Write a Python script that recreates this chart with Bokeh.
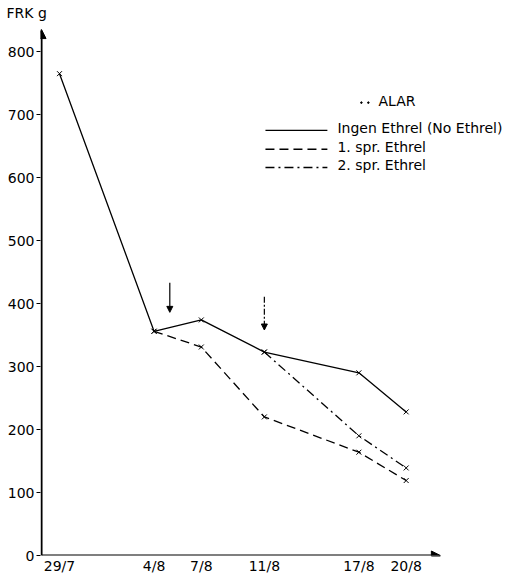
from bokeh.plotting import figure
from bokeh.models import Range1d, FixedTicker, Arrow, NormalHead
from bokeh.core.properties import value
from bokeh.embed import file_html
from bokeh.resources import INLINE

# ---- data ----
date_labels = ["29/7", "4/8", "7/8", "11/8", "17/8", "20/8"]
date_days = [0, 6, 9, 13, 19, 22]           # days after 29/7

ingen_days = [0, 6, 9, 13, 19, 22]
ingen_vals = [765, 356, 374, 323, 290, 228]

spr1_days = [6, 9, 13, 19, 22]
spr1_vals = [356, 331, 220, 164, 119]

spr2_days = [13, 19, 22]
spr2_vals = [323, 190, 139]

spray_days = [7.0, 13.0]
spray_top = [433, 411]
spray_bottom = [386, 358]

y_ticks = [0, 100, 200, 300, 400, 500, 600, 700, 800]

legend_title = "ALAR"
legend_labels = ["Ingen Ethrel (No Ethrel)", "1. spr. Ethrel", "2. spr. Ethrel"]
legend_dashes = ["solid", "9 5", "9 4 2 4"]
legend_rows = [675, 645, 616]

FONT = "DejaVu Sans"
TOP = 24  # title panel height in px (frame starts here)

p = figure(width=527, height=577, output_backend="svg", toolbar_location=None,
           x_range=Range1d(-1.206, 29.70), y_range=Range1d(0, (555 - TOP) / 0.6275),
           min_border_left=40, min_border_right=0, min_border_top=0,
           min_border_bottom=22, title="FRK g")
p.title.align = "left"
p.title.offset = -34
p.title.standoff = 4
p.title.text_font = FONT
p.title.text_font_size = "14px"
p.title.text_font_style = "normal"
p.title.text_color = "black"

p.outline_line_color = None
p.xgrid.grid_line_color = None
p.ygrid.grid_line_color = None
p.background_fill_color = "white"
p.border_fill_color = "white"

# axes
p.xaxis.ticker = FixedTicker(ticks=date_days)
p.xaxis.major_label_overrides = {d: l for d, l in zip(date_days, date_labels)}
p.xaxis.axis_line_color = None
p.xaxis.major_tick_line_color = None
p.xaxis.minor_tick_line_color = None
p.xaxis.major_tick_out = 0
p.xaxis.major_tick_in = 0
p.xaxis.minor_tick_out = 0
p.xaxis.major_label_standoff = 2
p.xaxis.major_label_text_font = FONT
p.xaxis.major_label_text_font_size = "14px"
p.xaxis.major_label_text_color = "black"

p.yaxis.ticker = FixedTicker(ticks=y_ticks)
p.yaxis.axis_line_color = None
p.yaxis.major_tick_out = 4
p.yaxis.major_tick_in = 0
p.yaxis.minor_tick_out = 0
p.yaxis.major_tick_line_color = "black"
p.yaxis.minor_tick_line_color = None
p.yaxis.major_label_standoff = 2
p.yaxis.major_label_text_font = FONT
p.yaxis.major_label_text_font_size = "14px"
p.yaxis.major_label_text_color = "black"

# axis lines with arrow heads
ax0 = -1.14
p.add_layout(Arrow(end=NormalHead(size=9, fill_color="black", line_color="black"),
                   x_start=ax0, y_start=0, x_end=ax0, y_end=835,
                   line_width=2, line_color="black"))
p.add_layout(Arrow(end=NormalHead(size=9, fill_color="black", line_color="black"),
                   x_start=ax0, y_start=0, x_end=24.17, y_end=0,
                   line_width=2, line_color="black"))

# series
p.line(ingen_days, ingen_vals, line_color="black", line_width=1.3)
p.line(spr1_days, spr1_vals, line_color="black", line_width=1.3, line_dash="9 5")
p.line(spr2_days, spr2_vals, line_color="black", line_width=1.3, line_dash="9 4 2 4")
for xs, ys in [(ingen_days, ingen_vals), (spr1_days, spr1_vals), (spr2_days, spr2_vals)]:
    p.scatter(xs, ys, marker="x", size=7, line_color="black", line_width=1)

# spray arrows
for i, (d, t, b) in enumerate(zip(spray_days, spray_top, spray_bottom)):
    p.add_layout(Arrow(end=NormalHead(size=6, fill_color="black", line_color="black"),
                       x_start=d, y_start=t, x_end=d, y_end=b,
                       line_width=1.2, line_color="black",
                       line_dash="solid" if i == 0 else "6 2 2 2"))

# legend (drawn by hand)
p.scatter([19.16, 19.6], [719, 719], marker="circle", size=1.6, color="black")
p.text([20.24], [722], text=[legend_title], text_font=value(FONT),
       text_font_size="14px", text_baseline="middle", text_color="black")
for lab, dash, yv in zip(legend_labels, legend_dashes, legend_rows):
    p.line([13.07, 17.0], [yv, yv], line_color="black", line_width=1.3, line_dash=dash)
    p.text([17.64], [yv + 4], text=[lab], text_font=value(FONT),
           text_font_size="14px", text_baseline="middle", text_color="black")

open("out.html", "w").write(file_html(p, INLINE))
